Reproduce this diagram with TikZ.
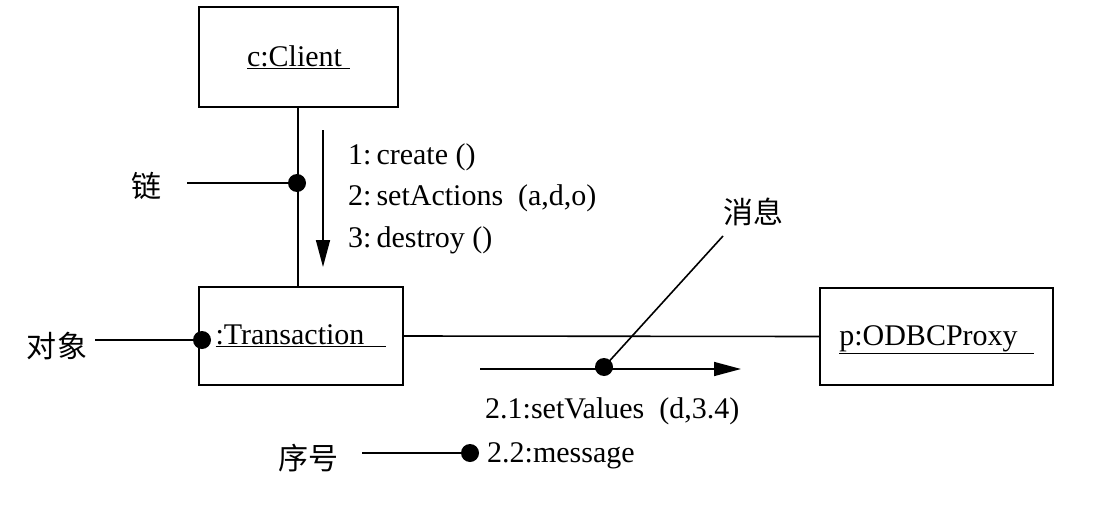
\documentclass[tikz,border=0pt]{standalone}
\usepackage{fontspec}
\setmainfont{Liberation Serif}
\newfontfamily\cjk{Noto Sans CJK SC}
\usetikzlibrary{arrows.meta}
\begin{document}
\begin{tikzpicture}[x=1pt,y=-1pt,
  every node/.style={font=\fontsize{30}{36}\selectfont},
  obj/.style={draw,line width=1.6pt,inner sep=0pt},
  lbl/.style={inner sep=0pt,anchor=west},
  cn/.style={inner sep=0pt,font=\cjk\fontsize{30}{36}\selectfont},
  dot/.style={circle,fill=black,inner sep=0pt,minimum size=18pt},
  ln/.style={line width=1.6pt},
  arr/.style={line width=1.6pt,-{Triangle[length=27pt,width=14pt]}}]
\useasboundingbox (0,0) rectangle (1110,508);
% objects
\node[obj,minimum width=199pt,minimum height=100pt] (client) at (298.5,57) {\underline{c:Client\hspace{8pt}}};
\node[obj,minimum width=204pt,minimum height=98pt] (trans) at (301,336) {\underline{:Transaction\hspace{22pt}}};
\node[obj,minimum width=233pt,minimum height=97pt] (odbc) at (936.5,336.5) {};
\node[inner sep=0pt] (odbclbl) at (936.5,340) {\underline{p:ODBCProxy\hspace{16pt}}};
% links
\draw[ln] (client.south -| 298,0) -- (298,0 |- trans.north);
\draw[ln] (trans.east) -- (odbc.west);
% message 1-3
\coordinate (a1) at (323,130);
\coordinate (a2) at (323,267);
\draw[arr] (a1) -- (a2);
\node[lbl] (m1) at (348,157) {1:\,create ()};
\node[lbl] (m2) at (348,198) {2:\,setActions\ \ (a,d,o)};
\node[lbl] (m3) at (348,240) {3:\,destroy ()};
% message 2.1
\coordinate (b1) at (480,369);
\coordinate (b2) at (741,369);
\draw[arr] (b1) -- (b2);
\node[dot] (mdot) at (604,367) {};
\node[lbl] (m21) at (485,411) {2.1:setValues\ \ (d,3.4)};
% annotations
\node[cn] (lian) at (146,186) {链};
\node[dot] (ldot) at (297,183) {};
\coordinate (lianend) at (187,183);
\draw[ln] (lianend) -- (ldot.center);
\node[cn] (duix) at (57,346) {对象};
\node[dot] (odot) at (202,340) {};
\coordinate (duixend) at (95,340);
\draw[ln] (duixend) -- (odot.center);
\node[cn] (xiaoxi) at (753,212) {消息};
\coordinate (xxend) at (723,236);
\draw[ln] (xxend) -- (mdot.center);
\node[cn] (xuhao) at (308,458) {序号};
\node[dot] (sdot) at (470,453) {};
\coordinate (xhend) at (362,453);
\draw[ln] (xhend) -- (sdot.center);
\node[lbl] (m22) at (487,456) {2.2:message};
\end{tikzpicture}
\end{document}
